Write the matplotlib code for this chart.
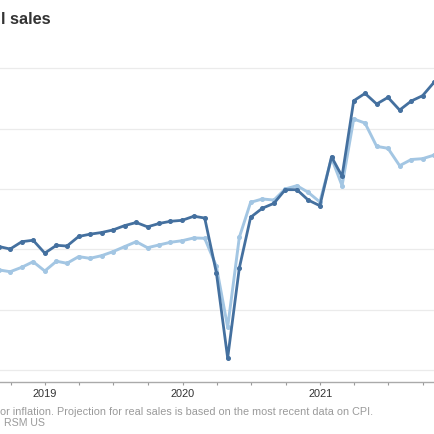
import matplotlib
matplotlib.use("Agg")
import matplotlib.pyplot as plt
import matplotlib.dates as mdates
import pandas as pd

# Monthly data, Aug 2018 - Oct 2021 (month-end dates)
months = pd.date_range("2018-08-31", periods=39, freq="ME")

nominal_sales = [502.3, 500.2, 506.3, 507.5, 496.8, 503.3, 502.7, 510.6, 512.5, 513.9,
                 516.0, 519.6, 522.2, 518.6, 521.4, 523.2, 524.0, 527.4, 525.9, 480.6,
                 409.9, 484.5, 526.5, 534.0, 538.1, 549.4, 549.4, 540.8, 536.1, 576.7,
                 560.5, 623.1, 629.2, 620.4, 625.9, 615.4, 622.9, 627.3, 638.6]

real_sales = [482.9, 481.4, 485.1, 489.7, 482.0, 490.1, 488.4, 493.9, 492.5, 494.7,
              498.0, 502.2, 506.3, 501.3, 503.6, 505.8, 507.1, 509.4, 509.1, 485.9,
              435.4, 509.9, 538.9, 541.7, 540.8, 550.0, 552.7, 547.2, 539.2, 575.6,
              552.7, 608.0, 604.6, 585.3, 583.7, 569.3, 574.4, 575.1, 578.1]

y_grid = [400, 450, 500, 550, 600, 650]

title_text = "l sales"
note_text = "or inflation. Projection for real sales is based on the most recent data on CPI."
source_text = "RSM US"

plt.rcParams["font.family"] = ["Liberation Sans", "DejaVu Sans"]

W = H = 435
fig = plt.figure(figsize=(4.35, 4.35), dpi=100)
ax = fig.add_axes([0, (H - 383) / H, 1, (383 - 50) / H])

dark = "#44709f"
light = "#a3c6e3"

ax.plot(months, real_sales, color=light, lw=2.1, marker="o", ms=2.6,
        solid_joinstyle="round", zorder=3)
ax.plot(months, nominal_sales, color=dark, lw=2.0, marker="o", ms=2.6,
        solid_joinstyle="round", zorder=4)

ax.set_xlim(pd.Timestamp("2018-09-03"), pd.Timestamp("2021-11-02"))
ax.set_ylim(390, 666)

ax.set_yticks(y_grid)
ax.set_yticklabels([])
ax.tick_params(axis="y", length=0)
ax.grid(axis="y", color="#ebebeb", lw=0.9)
ax.set_axisbelow(True)

ax.xaxis.set_major_locator(mdates.YearLocator())
ax.xaxis.set_major_formatter(mdates.DateFormatter("%Y"))
ax.xaxis.set_minor_locator(mdates.MonthLocator(bymonth=[1, 4, 7, 10]))
ax.tick_params(axis="x", which="both", direction="out", length=2.5, width=0.8,
               color="#999999", labelsize=7.9, labelcolor="#333333", pad=2)

for s in ["top", "left", "right"]:
    ax.spines[s].set_visible(False)
ax.spines["bottom"].set_color("#aaaaaa")
ax.spines["bottom"].set_linewidth(1.0)

renderer = fig.canvas.get_renderer()


def fitted_text(x0, x1, ybase, s, size, **kw):
    t = fig.text(x0 / W, 1 - ybase / H, s, ha="left", va="baseline", fontsize=size, **kw)
    w = t.get_window_extent(renderer).width
    if w > 0:
        t.set_fontsize(size * (x1 - x0) / w)
    return t


fitted_text(1, 50.7, 23.5, title_text, 11.7, fontweight="bold", color="#333333")
fitted_text(0, 371, 415.5, note_text, 7.6, color="#9a9a9a")
fitted_text(4, 44.7, 426.5, source_text, 7.6, color="#9a9a9a")

fig.savefig("out.png", dpi=100)
